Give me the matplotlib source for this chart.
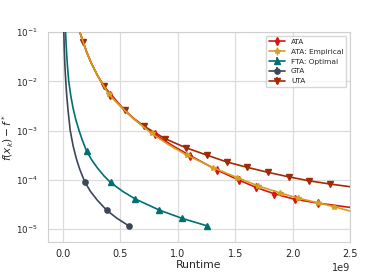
import numpy as np
import matplotlib
matplotlib.use('Agg')
import matplotlib.pyplot as plt
import seaborn as sns

# runtime (in units of 1e9) and f(x_k) - f*
uta_x = [0.13, 0.148, 0.177, 0.21, 0.25, 0.30, 0.357, 0.45, 0.538, 0.62, 0.706, 0.889, 1.072, 1.253,
         1.427, 1.607, 1.785, 1.965, 2.145, 2.322, 2.5, 2.6]
uta_y = [0.14, 0.1, 0.0636, 0.038, 0.023, 0.0135, 8.0e-3, 4.5e-3, 2.6e-3, 1.75e-3, 1.24e-3, 6.9e-4, 4.5e-4, 3.2e-4,
         2.32e-4, 1.8e-4, 1.43e-4, 1.16e-4, 9.6e-5, 8.3e-5, 7.3e-5, 6.8e-5]
uta_mark = [2, 6, 8, 10, 11, 12, 13, 14, 15, 16, 17, 18, 19]

ata_x = [0.13, 0.148, 0.177, 0.21, 0.25, 0.30, 0.357, 0.41, 0.538, 0.62, 0.706, 0.80, 0.96, 1.11, 1.34,
         1.53, 1.68, 1.84, 2.02, 2.22, 2.5, 2.6]
ata_y = [0.14, 0.1, 0.0636, 0.038, 0.023, 0.0135, 8.0e-3, 5.2e-3, 2.6e-3, 1.72e-3, 1.2e-3, 8.4e-4, 4.9e-4, 3.1e-4, 1.6e-4,
         1.0e-4, 7.1e-5, 5.25e-5, 4.05e-5, 3.4e-5, 2.78e-5, 2.6e-5]
ata_err = [0, 0, 0, 0, 0, 0, 0, 6e-4, 0, 0, 0, 1.1e-4, 0, 4e-5, 2.2e-5,
           1.4e-5, 1.0e-5, 7e-6, 5.5e-6, 4.5e-6, 0, 0]
ata_mark = [7, 11, 13, 14, 15, 16, 17, 18, 19]

emp_x = [0.13, 0.148, 0.177, 0.21, 0.25, 0.30, 0.357, 0.40, 0.538, 0.62, 0.706, 0.773, 0.92, 1.078, 1.31,
         1.52, 1.70, 1.886, 2.05, 2.217, 2.357, 2.5, 2.6]
emp_y = [0.14, 0.1, 0.0636, 0.038, 0.023, 0.0135, 8.0e-3, 5.5e-3, 2.6e-3, 1.72e-3, 1.18e-3, 8.8e-4, 5.2e-4, 3.2e-4, 1.78e-4,
         1.11e-4, 7.6e-5, 5.5e-5, 4.27e-5, 3.47e-5, 2.88e-5, 2.34e-5, 2.1e-5]
emp_err = [0, 0, 0, 0, 0, 0, 0, 2e-4, 0, 0, 0, 3e-5, 0, 1e-5, 6e-6,
           4e-6, 3e-6, 2e-6, 1.5e-6, 1.2e-6, 1e-6, 0, 0]
emp_mark = [7, 11, 13, 14, 15, 16, 17, 18, 19, 20]

fta_x = [0.02, 0.024, 0.029, 0.035, 0.043, 0.052, 0.07, 0.09, 0.113, 0.142, 0.17, 0.207,
         0.25, 0.30, 0.36, 0.416, 0.52, 0.628, 0.84, 1.04, 1.258]
fta_y = [0.17, 0.1, 0.057, 0.032, 0.0174, 0.01, 5.05e-3, 2.83e-3, 1.68e-3, 1e-3, 6.4e-4, 3.85e-4,
         2.59e-4, 1.77e-4, 1.2e-4, 8.9e-5, 5.9e-5, 4.15e-5, 2.45e-5, 1.66e-5, 1.17e-5]
fta_mark = [11, 15, 17, 18, 19, 20]

gta_x = [0.007, 0.009, 0.013, 0.018, 0.026, 0.035, 0.048, 0.065, 0.09, 0.12,
         0.15, 0.192, 0.24, 0.30, 0.381, 0.47, 0.575]
gta_y = [0.17, 0.1, 0.0445, 0.0218, 0.01, 4.9e-3, 2.29e-3, 1e-3, 4.9e-4, 2.6e-4,
         1.59e-4, 9.1e-5, 5.9e-5, 3.9e-5, 2.45e-5, 1.68e-5, 1.17e-5]
gta_mark = [11, 14, 16]

sns.set_style('whitegrid')
fig, ax = plt.subplots(figsize=(3.89, 2.72), dpi=100)
fig.subplots_adjust(left=0.123, right=0.9, bottom=0.11, top=0.882)

lw = 1.2
ms = 3.8
ax.errorbar(np.array(ata_x) * 1e9, ata_y, yerr=ata_err, errorevery=ata_mark, markevery=ata_mark,
            marker='d', ms=ms, lw=lw, elinewidth=1.0, color='#d81414', label='ATA', zorder=3)
ax.errorbar(np.array(emp_x) * 1e9, emp_y, yerr=emp_err, errorevery=emp_mark, markevery=emp_mark,
            marker='*', ms=ms + 0.5, lw=lw, elinewidth=1.0, color='#d4a020', label='ATA: Empirical', zorder=3)
ax.errorbar(np.array(fta_x) * 1e9, fta_y, yerr=np.zeros(len(fta_y)), errorevery=fta_mark, markevery=fta_mark,
            marker='^', ms=ms, lw=lw, color='#00706e', label='FTA: Optimal', zorder=3)
ax.errorbar(np.array(gta_x) * 1e9, gta_y, yerr=np.zeros(len(gta_y)), errorevery=gta_mark, markevery=gta_mark,
            marker='o', ms=ms, lw=lw, color='#3b4759', label='GTA', zorder=3)
ax.errorbar(np.array(uta_x) * 1e9, uta_y, yerr=np.zeros(len(uta_y)), errorevery=uta_mark, markevery=uta_mark,
            marker='v', ms=ms, lw=lw, color='#a02c06', label='UTA', zorder=2)

ax.set_yscale('log')
ax.set_xlim(-0.13e9, 2.5e9)
ax.set_ylim(5.5e-6, 0.1)
ax.set_xticks([0, 0.5e9, 1.0e9, 1.5e9, 2.0e9, 2.5e9])
ax.set_yticks([1e-5, 1e-4, 1e-3, 1e-2, 1e-1])
ax.minorticks_off()
ax.tick_params(axis='x', labelsize=7.0, colors='#262626', pad=1.5)
ax.tick_params(axis='y', labelsize=6.3, colors='#262626', pad=3.5)
ax.xaxis.get_offset_text().set_fontsize(7.0)
ax.set_xlabel('Runtime', fontsize=7.8, labelpad=1)
ax.set_ylabel(r'$f(x_k) - f^*$', fontsize=7.6, labelpad=0)
for s in ax.spines.values():
    s.set_color('#d0d0d0')
ax.grid(color='#dcdcdc', lw=0.9)
ax.legend(loc='upper right', fontsize=5.3, frameon=True, handlelength=2.2)

fig.savefig('out.png', dpi=100)
